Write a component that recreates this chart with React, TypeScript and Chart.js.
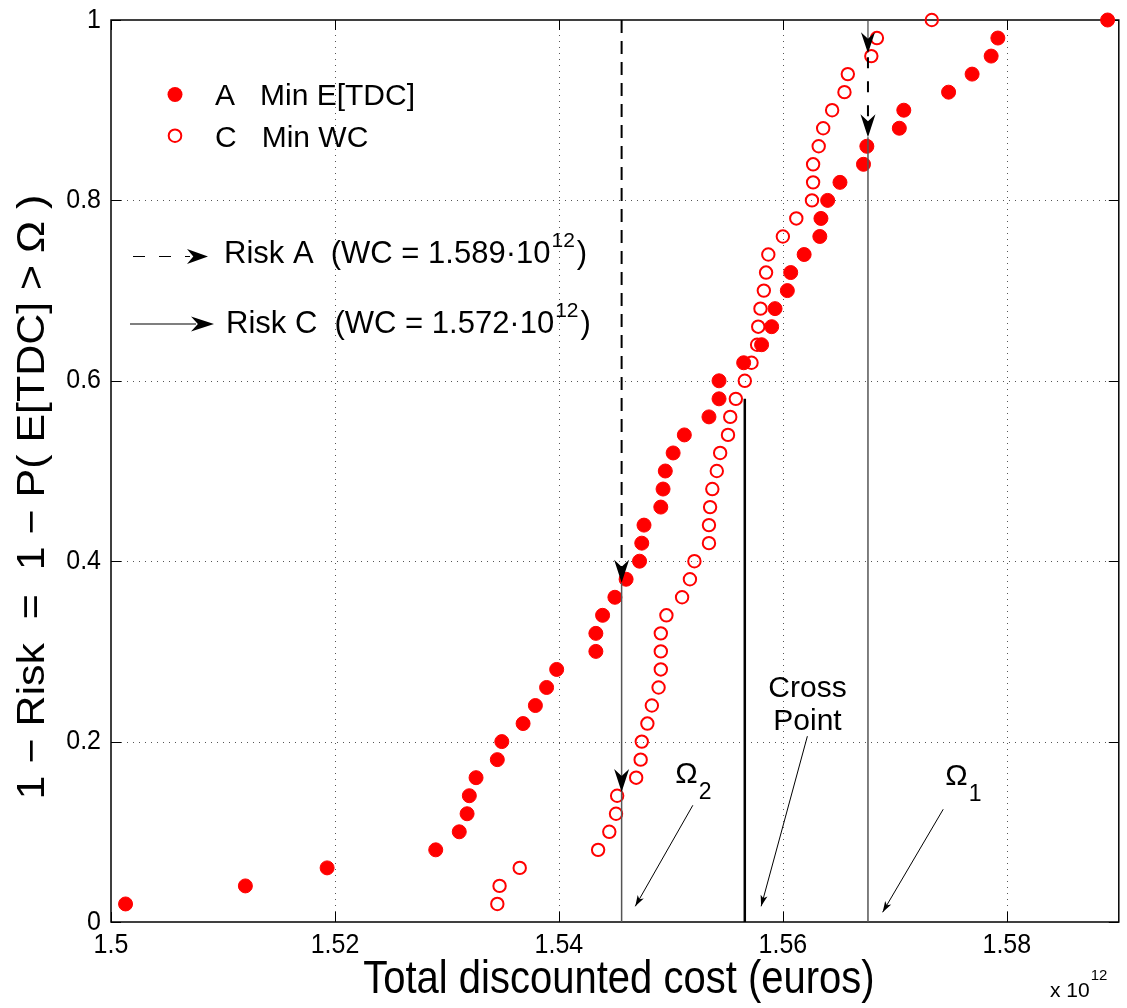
import React, { useEffect, useRef } from "react";
import { Chart, registerables } from "chart.js";

Chart.register(...registerables);

// ---- data ----
const riskLevels = [
  0.02, 0.04, 0.06, 0.08, 0.1, 0.12, 0.14, 0.16, 0.18, 0.2,
  0.22, 0.24, 0.26, 0.28, 0.3, 0.32, 0.34, 0.36, 0.38, 0.4,
  0.42, 0.44, 0.46, 0.48, 0.5, 0.52, 0.54, 0.56, 0.58, 0.6,
  0.62, 0.64, 0.66, 0.68, 0.7, 0.72, 0.74, 0.76, 0.78, 0.8,
  0.82, 0.84, 0.86, 0.88, 0.9, 0.92, 0.94, 0.96, 0.98, 1.0,
];

// Strategy A (Min E[TDC]) total discounted cost, x 10^12
const costA = [
  1.5013, 1.512, 1.5193, 1.529, 1.5311, 1.5318, 1.532, 1.5326, 1.5345, 1.5349,
  1.5368, 1.5379, 1.5389, 1.5398, 1.5433, 1.5433, 1.5439, 1.545, 1.546, 1.5472,
  1.5474, 1.5476, 1.5491, 1.5493, 1.5495, 1.5502, 1.5512, 1.5534, 1.5543, 1.5543,
  1.5565, 1.5581, 1.559, 1.5593, 1.5604, 1.5607, 1.5619, 1.5633, 1.5634, 1.564,
  1.5651, 1.5672, 1.5675, 1.5704, 1.5708, 1.5748, 1.5769, 1.5786, 1.5792, 1.589,
];

// Strategy C (Min WC) total discounted cost, x 10^12
const costC = [
  1.5345, 1.5347, 1.5365, 1.5435, 1.5445, 1.5451, 1.5452, 1.5469, 1.5473, 1.5474,
  1.5479, 1.5483, 1.5489, 1.5491, 1.5491, 1.5491, 1.5496, 1.551, 1.5517, 1.5521,
  1.5534, 1.5534, 1.5535, 1.5537, 1.5541, 1.5544, 1.5551, 1.5553, 1.5558, 1.5566,
  1.5572, 1.5577, 1.5578, 1.558, 1.5583, 1.5585, 1.5587, 1.56, 1.5612, 1.5626,
  1.5627, 1.5627, 1.5632, 1.5636, 1.5644, 1.5655, 1.5658, 1.5679, 1.5684, 1.5733,
];

const seriesLabels = ["A   Min E[TDC]", "C   Min WC"];

const xTickValues = [1.5, 1.52, 1.54, 1.56, 1.58];
const xTickLabels = ["1.5", "1.52", "1.54", "1.56", "1.58"];
const yTickValues = [0, 0.2, 0.4, 0.6, 0.8, 1];
const yTickLabels = ["0", "0.2", "0.4", "0.6", "0.8", "1"];

const xTitle = "Total discounted cost (euros)";
const yTitle = "1 \u2212 Risk  =  1 \u2212 P( E[TDC] > \u03A9 )";
const riskLegendA = ["Risk A  (WC = 1.589\u00B710", "12", ")"];
const riskLegendC = ["Risk C  (WC = 1.572\u00B710", "12", ")"];

// annotation values (data coordinates)
const omega2Cost = 1.5456;
const omega2RiskA = 0.376;
const omega2RiskC = 0.144;
const crossCost = 1.5566;
const crossTop = 0.58;
const omega1Cost = 1.5676;
const omega1RiskC = 0.963;
const omega1RiskA = 0.87;

const omega2Pointer = [[1.55196, 0.1294], [1.54682, 0.0174]];
const crossPointer = [[1.56219, 0.206], [1.55806, 0.0174]];
const omega1Pointer = [[1.57432, 0.125], [1.56891, 0.0108]];
const omega2LabelPos = [1.5504, 0.1538];
const omega1LabelPos = [1.5745, 0.152];
const crossLabelPos = [1.5622, 0.25, 0.2126];

const FONT = '"Liberation Sans", Arial, Helvetica, sans-serif';
const RED = "#ff0000";

function txt(
  ctx: CanvasRenderingContext2D,
  s: string,
  x: number,
  y: number,
  size: number,
  align: CanvasTextAlign = "left",
  baseline: CanvasTextBaseline = "alphabetic",
  sx = 1,
  sy = 1
) {
  ctx.save();
  ctx.font = `${size}px ${FONT}`;
  ctx.textAlign = align;
  ctx.textBaseline = baseline;
  ctx.fillStyle = "#000";
  ctx.translate(x, y);
  ctx.scale(sx, sy);
  ctx.fillText(s, 0, 0);
  const w = ctx.measureText(s).width * sx;
  ctx.restore();
  return w;
}

function arrowHead(
  ctx: CanvasRenderingContext2D,
  tx: number,
  ty: number,
  angle: number,
  len: number,
  halfW: number,
  notch = 0.3
) {
  const ux = Math.cos(angle);
  const uy = Math.sin(angle);
  const px = -uy;
  const py = ux;
  const bx = tx - ux * len;
  const by = ty - uy * len;
  ctx.beginPath();
  ctx.moveTo(tx, ty);
  ctx.lineTo(bx + px * halfW, by + py * halfW);
  ctx.lineTo(tx - ux * len * (1 - notch), ty - uy * len * (1 - notch));
  ctx.lineTo(bx - px * halfW, by - py * halfW);
  ctx.closePath();
  ctx.fill();
}

function line(
  ctx: CanvasRenderingContext2D,
  x1: number,
  y1: number,
  x2: number,
  y2: number,
  w: number,
  color: string,
  dash: number[] = []
) {
  ctx.save();
  ctx.beginPath();
  ctx.strokeStyle = color;
  ctx.lineWidth = w;
  ctx.setLineDash(dash);
  ctx.moveTo(x1, y1);
  ctx.lineTo(x2, y2);
  ctx.stroke();
  ctx.restore();
}

const decor = {
  id: "matlabDecor",
  beforeDatasetsDraw(chart: any) {
    const ctx: CanvasRenderingContext2D = chart.ctx;
    const { left, right, top, bottom } = chart.chartArea;
    const xs = chart.scales.x;
    const ys = chart.scales.y;
    ctx.save();
    // dotted grid
    ctx.strokeStyle = "#555";
    ctx.lineWidth = 1;
    ctx.setLineDash([1, 5]);
    xTickValues.forEach((v) => {
      const x = Math.round(xs.getPixelForValue(v)) + 0.5;
      if (x <= left + 1) return;
      ctx.beginPath();
      ctx.moveTo(x, bottom - 10);
      ctx.lineTo(x, top + 10);
      ctx.stroke();
    });
    yTickValues.forEach((v) => {
      const y = Math.round(ys.getPixelForValue(v)) + 0.5;
      if (y >= bottom - 1 || y <= top + 1) return;
      ctx.beginPath();
      ctx.moveTo(left + 10, y);
      ctx.lineTo(right - 10, y);
      ctx.stroke();
    });
    ctx.setLineDash([]);
    // inward ticks
    ctx.strokeStyle = "#000";
    ctx.lineWidth = 1;
    xTickValues.forEach((v) => {
      const x = Math.round(xs.getPixelForValue(v)) + 0.5;
      ctx.beginPath();
      ctx.moveTo(x, bottom);
      ctx.lineTo(x, bottom - 10);
      ctx.moveTo(x, top);
      ctx.lineTo(x, top + 10);
      ctx.stroke();
    });
    yTickValues.forEach((v) => {
      const y = Math.round(ys.getPixelForValue(v)) + 0.5;
      ctx.beginPath();
      ctx.moveTo(left, y);
      ctx.lineTo(left + 10, y);
      ctx.moveTo(right, y);
      ctx.lineTo(right - 10, y);
      ctx.stroke();
    });
    // frame
    ctx.lineWidth = 1.5;
    ctx.strokeRect(left, top, right - left, bottom - top);
    ctx.restore();
  },
  afterDatasetsDraw(chart: any) {
    const ctx: CanvasRenderingContext2D = chart.ctx;
    const { top, bottom } = chart.chartArea;
    const xs = chart.scales.x;
    const ys = chart.scales.y;
    const X = (v: number) => xs.getPixelForValue(v);
    const Y = (v: number) => ys.getPixelForValue(v);
    ctx.save();
    ctx.fillStyle = "#000";
    const down = Math.PI / 2;

    // Omega2 line
    const x2 = X(omega2Cost);
    line(ctx, x2, top, x2, Y(omega2RiskA) - 14, 2, "#000", [13, 8]);
    arrowHead(ctx, x2, Y(omega2RiskA), down, 23, 7.5);
    line(ctx, x2, Y(omega2RiskA), x2, bottom, 1.5, "#555");
    arrowHead(ctx, x2, Y(omega2RiskC), down, 23, 7.5);

    // Cross point line
    const xc = X(crossCost);
    line(ctx, xc, Y(crossTop), xc, bottom, 2.5, "#000");

    // Omega1 line
    const x1 = X(omega1Cost);
    line(ctx, x1, top, x1, Y(omega1RiskC) - 14, 1.2, "#444");
    arrowHead(ctx, x1, Y(omega1RiskC), down, 21, 7);
    line(ctx, x1, Y(omega1RiskC) + 4, x1, Y(omega1RiskA) - 14, 2, "#000", [11, 13]);
    arrowHead(ctx, x1, Y(omega1RiskA), down, 23, 7.5);
    line(ctx, x1, Y(omega1RiskA), x1, bottom, 1.5, "#555");

    // pointer arrows
    [omega2Pointer, crossPointer, omega1Pointer].forEach((p) => {
      const ax = X(p[0][0]);
      const ay = Y(p[0][1]);
      const bx = X(p[1][0]);
      const by = Y(p[1][1]);
      line(ctx, ax, ay, bx, by, 1, "#000");
      arrowHead(ctx, bx, by, Math.atan2(by - ay, bx - ax), 11, 3.5, 0.25);
    });

    // Omega labels
    let w = txt(ctx, "\u03A9", X(omega2LabelPos[0]), Y(omega2LabelPos[1]), 30);
    txt(ctx, "2", X(omega2LabelPos[0]) + w + 1, Y(omega2LabelPos[1]) + 16, 23);
    w = txt(ctx, "\u03A9", X(omega1LabelPos[0]), Y(omega1LabelPos[1]), 30);
    txt(ctx, "1", X(omega1LabelPos[0]) + w + 1, Y(omega1LabelPos[1]) + 16, 23);

    // Cross point label
    txt(ctx, "Cross", X(crossLabelPos[0]), Y(crossLabelPos[1]), 30, "center");
    txt(ctx, "Point", X(crossLabelPos[0]), Y(crossLabelPos[2]), 30, "center");

    // Series legend
    ctx.fillStyle = RED;
    ctx.beginPath();
    ctx.arc(175, 94.5, 7.5, 0, Math.PI * 2);
    ctx.fill();
    ctx.strokeStyle = RED;
    ctx.lineWidth = 2;
    ctx.beginPath();
    ctx.arc(175, 135.7, 6.3, 0, Math.PI * 2);
    ctx.stroke();
    txt(ctx, seriesLabels[0], 215, 105, 30);
    txt(ctx, seriesLabels[1], 215, 146.5, 30);

    // Risk legend
    line(ctx, 133, 256.5, 190, 256.5, 1.2, "#000", [12, 14]);
    ctx.fillStyle = "#000";
    arrowHead(ctx, 208, 256.5, 0, 21, 7.5);
    w = txt(ctx, riskLegendA[0], 224, 263, 31);
    let w2 = txt(ctx, riskLegendA[1], 224 + w + 1, 247, 21);
    txt(ctx, riskLegendA[2], 224 + w + w2 + 3, 263, 31);

    line(ctx, 130, 324, 196, 324, 1.2, "#000");
    ctx.fillStyle = "#000";
    arrowHead(ctx, 214, 324, 0, 23, 7.5);
    w = txt(ctx, riskLegendC[0], 226, 333, 31);
    w2 = txt(ctx, riskLegendC[1], 226 + w + 1, 317, 21);
    txt(ctx, riskLegendC[2], 226 + w + w2 + 3, 333, 31);

    ctx.restore();
  },
  afterDraw(chart: any) {
    const ctx: CanvasRenderingContext2D = chart.ctx;
    const { left, right, bottom } = chart.chartArea;
    const xs = chart.scales.x;
    const ys = chart.scales.y;
    ctx.save();
    xTickValues.forEach((v, i) => {
      txt(ctx, xTickLabels[i], xs.getPixelForValue(v), bottom + 31, 25, "center", "alphabetic", 1, 1.1);
    });
    yTickValues.forEach((v, i) => {
      txt(ctx, yTickLabels[i], left - 10, ys.getPixelForValue(v), 25, "right", "middle", 1, 1.1);
    });
    // x title
    txt(ctx, xTitle, (left + right) / 2 + 4, 993, 40, "center", "alphabetic", 1, 1.15);
    // exponent
    const w = txt(ctx, "x 10", 1050, 997, 21);
    txt(ctx, "12", 1050 + w + 1, 980, 15);
    // y title (rotated, slightly stretched along its reading direction)
    ctx.translate(34, 497);
    ctx.rotate(-Math.PI / 2);
    txt(ctx, yTitle, 0, 0, 38, "center", "middle", 1.13, 1);
    ctx.restore();
  },
};

export default function App() {
  const ref = useRef<HTMLCanvasElement>(null);
  useEffect(() => {
    const canvas = ref.current;
    if (!canvas) return;
    const chart = new Chart(canvas, {
      type: "scatter",
      data: {
        datasets: [
          {
            label: seriesLabels[0],
            data: costA.map((x, i) => ({ x, y: riskLevels[i] })),
            pointStyle: "circle",
            pointRadius: 7,
            pointBorderWidth: 1,
            pointBackgroundColor: RED,
            pointBorderColor: RED,
            backgroundColor: RED,
            borderColor: RED,
            clip: false,
          } as any,
          {
            label: seriesLabels[1],
            data: costC.map((x, i) => ({ x, y: riskLevels[i] })),
            pointStyle: "circle",
            pointRadius: 6.2,
            pointBorderWidth: 2,
            pointBackgroundColor: "rgba(0,0,0,0)",
            pointBorderColor: RED,
            backgroundColor: "rgba(0,0,0,0)",
            borderColor: RED,
            clip: false,
          } as any,
        ],
      },
      options: {
        responsive: false,
        animation: false,
        devicePixelRatio: 1,
        events: [],
        layout: { padding: { left: 0, top: 20, right: 7, bottom: 0 } },
        plugins: { legend: { display: false }, tooltip: { enabled: false } },
        scales: {
          x: {
            type: "linear",
            min: 1.5,
            max: 1.59,
            grid: { display: false },
            border: { display: false },
            ticks: { display: false },
            afterFit: (s: any) => {
              s.height = 86;
            },
          },
          y: {
            type: "linear",
            min: 0,
            max: 1,
            grid: { display: false },
            border: { display: false },
            ticks: { display: false },
            afterFit: (s: any) => {
              s.width = 111;
            },
          },
        },
      } as any,
      plugins: [decor],
    });
    return () => chart.destroy();
  }, []);
  return (
    <div style={{ position: "absolute", left: 0, top: 0, width: 1127, height: 1008, background: "#fff" }}>
      <canvas ref={ref} width={1127} height={1008} style={{ width: 1127, height: 1008, display: "block" }} />
    </div>
  );
}
